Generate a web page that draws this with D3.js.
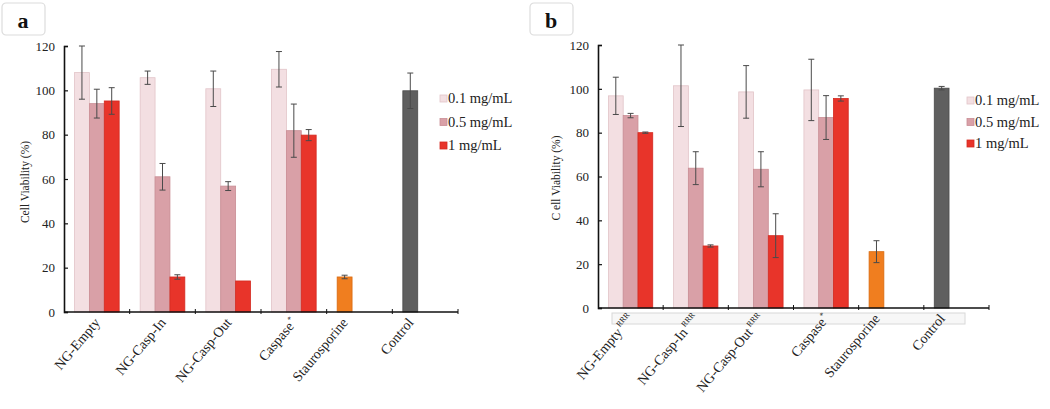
<!DOCTYPE html>
<html>
<head>
<meta charset="utf-8">
<script src="https://cdn.jsdelivr.net/npm/d3@7"></script>
<style>
  html, body { margin: 0; padding: 0; background: #fff; }
  svg { display: block; font-family: "Liberation Serif", "Times New Roman", serif; }
</style>
</head>
<body>
<svg id="chart" width="1050" height="409"></svg>
<script>
// ---------- data ----------
const categoriesA = ["NG-Empty", "NG-Casp-In", "NG-Casp-Out", "Caspase", "Staurosporine", "Control"];
const supA        = ["", "", "", "*", "", ""];
const categoriesB = ["NG-Empty", "NG-Casp-In", "NG-Casp-Out", "Caspase", "Staurosporine", "Control"];
const supB        = ["RRR", "RRR", "RRR", "*", "", ""];
const doses = ["0.1 mg/mL", "0.5 mg/mL", "1 mg/mL"];
const yTicks = [0, 20, 40, 60, 80, 100, 120];

// panel a (treated groups: first four categories)
const a_01 = [108, 105.7, 100.7, 109.5];
const a_01err = [12, 3, 8, 8];
const a_05 = [94, 61, 56.8, 81.8];
const a_05err = [6.5, 6, 2, 12];
const a_1 = [95.2, 15.8, 14, 79.8];
const a_1err = [6, 1, 0, 2.5];
const a_stauro = 15.8, a_stauroErr = 0.8;
const a_control = 99.8, a_controlErr = 8;

// panel b
const b_01 = [96.8, 101.4, 98.6, 99.5];
const b_01err = [8.5, 18.6, 12, 14];
const b_05 = [87.8, 63.8, 63.3, 86.9];
const b_05err = [1, 7.5, 8, 10];
const b_1 = [80, 28.3, 33, 95.6];
const b_1err = [0.3, 0.5, 10, 1.2];
const b_stauro = 25.7, b_stauroErr = 5;
const b_control = 100.3, b_controlErr = 0.8;

// ---------- styles ----------
const doseColors = ["#f3dfe2", "#d9a0a7", "#e8342a"];
const doseStroke = ["#e2c4c8", "#c98d94", "#d42a20"];
const stauroColor = "#f07e1f";
const controlColor = "#5f5f5f";
const errColor = "#4a4a4a";

const svg = d3.select("#chart");

function panel(cfg) {
  const g = svg.append("g");
  const x = d3.scaleBand().domain(cfg.categories).range([cfg.x0, cfg.x1]).padding(0);
  const step = x.step();
  const x1 = d3.scaleBand().domain(doses).range([step * 0.16, step * 0.84]).padding(0);
  const y = d3.scaleLinear().domain([0, 120]).range([cfg.y0, cfg.y120]);

  // label box
  g.append("rect").attr("x", cfg.boxX).attr("y", 3).attr("width", 43).attr("height", 32)
    .attr("rx", 4).attr("fill", "#fff").attr("stroke", "#dcdcdc").attr("stroke-width", 1.2);
  g.append("text").attr("x", cfg.boxX + 21).attr("y", 28).attr("text-anchor", "middle")
    .attr("font-size", 22).attr("font-weight", "bold").attr("fill", "#111").text(cfg.letter);

  // optional grey strip under axis (panel b)
  if (cfg.strip) {
    g.append("rect").attr("x", cfg.x0 + 14).attr("y", cfg.y0 + 5)
      .attr("width", (cfg.x1 - cfg.x0) - 38).attr("height", 11)
      .attr("fill", "#f7f7f7").attr("stroke", "#d8d8d8").attr("stroke-width", 1);
  }

  // bars
  const series = [cfg.v01, cfg.v05, cfg.v1];
  const errs = [cfg.e01, cfg.e05, cfg.e1];
  const bars = [];
  series.forEach((vals, si) => {
    vals.forEach((v, ci) => {
      bars.push({cat: cfg.categories[ci], slot: doses[si], v, e: errs[si][ci],
                 fill: doseColors[si], stroke: doseStroke[si]});
    });
  });
  bars.push({cat: cfg.categories[4], slot: doses[0], v: cfg.stauro, e: cfg.stauroErr, fill: stauroColor, stroke: "#d86a10"});
  bars.push({cat: cfg.categories[5], slot: doses[0], v: cfg.control, e: cfg.controlErr, fill: controlColor, stroke: "#4a4a4a"});

  g.selectAll("rect.bar").data(bars).enter().append("rect").attr("class", "bar")
    .attr("x", d => x(d.cat) + x1(d.slot))
    .attr("width", x1.bandwidth())
    .attr("y", d => y(d.v))
    .attr("height", d => y(0) - y(d.v))
    .attr("fill", d => d.fill)
    .attr("stroke", d => d.stroke).attr("stroke-width", 0.8);

  // error bars
  const eb = g.selectAll("g.err").data(bars.filter(d => d.e > 0)).enter().append("g")
    .attr("stroke", errColor).attr("stroke-width", 1);
  eb.append("line")
    .attr("x1", d => x(d.cat) + x1(d.slot) + x1.bandwidth() / 2)
    .attr("x2", d => x(d.cat) + x1(d.slot) + x1.bandwidth() / 2)
    .attr("y1", d => y(d.v + d.e)).attr("y2", d => y(d.v - d.e));
  [1, -1].forEach(sgn => {
    eb.append("line")
      .attr("x1", d => x(d.cat) + x1(d.slot) + x1.bandwidth() / 2 - 3)
      .attr("x2", d => x(d.cat) + x1(d.slot) + x1.bandwidth() / 2 + 3)
      .attr("y1", d => y(d.v + sgn * d.e)).attr("y2", d => y(d.v + sgn * d.e));
  });

  // y axis
  const yAxis = d3.axisLeft(y).tickValues(yTicks).tickSize(-4).tickPadding(9);
  const ya = g.append("g").attr("transform", `translate(${cfg.x0},0)`).call(yAxis);
  ya.select(".domain").attr("stroke", "#111").attr("stroke-width", 1.6);
  ya.selectAll(".tick line").attr("stroke", "#111").attr("stroke-width", 1.2);
  ya.selectAll(".tick text").attr("font-size", 13).attr("fill", "#222")
    .attr("font-family", "Liberation Serif, serif");

  // x axis line and boundary ticks
  g.append("line").attr("x1", cfg.x0).attr("x2", cfg.x1).attr("y1", y(0)).attr("y2", y(0))
    .attr("stroke", "#111").attr("stroke-width", 1.6);
  g.selectAll("line.xt").data(cfg.categories.slice(1).concat(["__end"])).enter().append("line")
    .attr("x1", d => d === "__end" ? cfg.x1 : x(d)).attr("x2", d => d === "__end" ? cfg.x1 : x(d))
    .attr("y1", y(0) - 3).attr("y2", y(0) + 2)
    .attr("stroke", "#111").attr("stroke-width", 1);

  // x labels
  const nBars = cfg.categories.map((c, i) => i < 4 ? 3 : 1);
  const lbl = g.selectAll("text.xl").data(cfg.categories).enter().append("text").attr("class", "xl")
    .attr("text-anchor", "end").attr("font-size", 14).attr("fill", "#222")
    .attr("transform", (d, i) => {
      const cx = x(d) + x1(doses[0]) + nBars[i] * x1.bandwidth() / 2 + 4;
      return `translate(${cx},${y(0) + 11}) rotate(-50)`;
    });
  lbl.append("tspan").text(d => d);
  lbl.append("tspan").attr("font-size", 8).attr("dy", -6).attr("dx", (d, i) => cfg.sup[i] === "*" ? 1 : 2)
    .text((d, i) => cfg.sup[i]);

  // y label
  g.append("text").attr("transform", `translate(${cfg.ylabX},${cfg.ylabY}) rotate(-90)`)
    .attr("text-anchor", "middle").attr("font-size", 11.5).attr("fill", "#222").text(cfg.ylab);

  // legend
  doses.forEach((d, i) => {
    const ly = cfg.legY + i * cfg.legStep;
    g.append("rect").attr("x", cfg.legX).attr("y", ly - 8).attr("width", 7).attr("height", 7)
      .attr("fill", doseColors[i]).attr("stroke", doseStroke[i]).attr("stroke-width", 0.8);
    g.append("text").attr("x", cfg.legX + 8).attr("y", ly).attr("font-size", 14.5).attr("fill", "#222").text(d);
  });
}

panel({
  letter: "a", boxX: 2, categories: categoriesA, sup: supA,
  x0: 64, x1: 458, y0: 312, y120: 46,
  v01: a_01, e01: a_01err, v05: a_05, e05: a_05err, v1: a_1, e1: a_1err,
  stauro: a_stauro, stauroErr: a_stauroErr, control: a_control, controlErr: a_controlErr,
  ylab: "Cell Viability (%)", ylabX: 29, ylabY: 182,
  legX: 440, legY: 103, legStep: 23.5, strip: false
});

panel({
  letter: "b", boxX: 530, categories: categoriesB, sup: supB,
  x0: 598, x1: 989, y0: 308, y120: 45,
  v01: b_01, e01: b_01err, v05: b_05, e05: b_05err, v1: b_1, e1: b_1err,
  stauro: b_stauro, stauroErr: b_stauroErr, control: b_control, controlErr: b_controlErr,
  ylab: "C ell Viability (%)", ylabX: 560, ylabY: 178,
  legX: 967, legY: 105, legStep: 21.5, strip: true
});
</script>
</body>
</html>
